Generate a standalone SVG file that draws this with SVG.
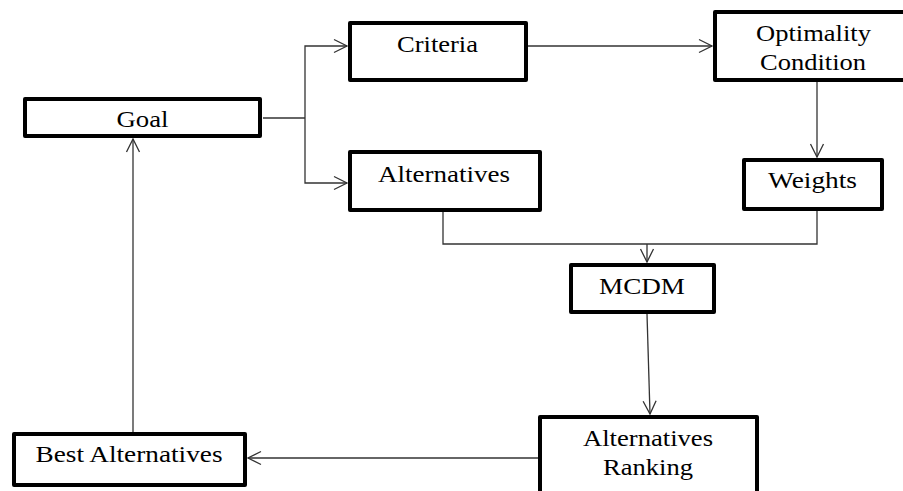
<svg xmlns="http://www.w3.org/2000/svg" width="903" height="491" viewBox="0 0 903 491">
<style>
.box{fill:#fff;stroke:#000;stroke-width:4;stroke-linejoin:round}
.t{font-family:"Liberation Serif","Times New Roman",serif;font-size:24px;fill:#000;text-anchor:middle}
.c{fill:none;stroke:#333;stroke-width:1.3}
</style>
<defs>
<marker id="a" markerUnits="userSpaceOnUse" markerWidth="20" markerHeight="20" viewBox="-15 -10 17 20" refX="0" refY="0" orient="auto">
<path d="M-13,-6.5 L0,0 L-13,6.5" fill="none" stroke="#333" stroke-width="1.3"/>
</marker>
</defs>
<rect width="903" height="491" fill="#fff"/>
<g id="connectors">
<path class="c" d="M263,118 H305"/>
<path class="c" d="M305,118 V46 H347" marker-end="url(#a)"/>
<path class="c" d="M305,118 V183 H347" marker-end="url(#a)"/>
<path class="c" d="M528,46 H712" marker-end="url(#a)"/>
<path class="c" d="M817,82 V157" marker-end="url(#a)"/>
<path class="c" d="M443,212 V244 H817 V211"/>
<path class="c" d="M647,244 V262" marker-end="url(#a)"/>
<path class="c" d="M647,314 L650,414" marker-end="url(#a)"/>
<path class="c" d="M538,458 H248" marker-end="url(#a)"/>
<path class="c" d="M133,432 V139" marker-end="url(#a)"/>
</g>
<g id="goal"><rect class="box" x="25" y="99" width="235" height="37"/><text class="t" x="142.5" y="127" textLength="52" lengthAdjust="spacingAndGlyphs">Goal</text></g>
<g id="criteria"><rect class="box" x="350" y="23" width="176" height="57"/><text class="t" x="437.5" y="52" textLength="81" lengthAdjust="spacingAndGlyphs">Criteria</text></g>
<g id="alternatives"><rect class="box" x="350" y="152" width="190" height="58"/><text class="t" x="444" y="182" textLength="132" lengthAdjust="spacingAndGlyphs">Alternatives</text></g>
<g id="optimality"><rect class="box" x="715" y="12" width="200" height="68"/><text class="t" x="813.5" y="41" textLength="115" lengthAdjust="spacingAndGlyphs">Optimality</text><text class="t" x="813" y="70" textLength="106" lengthAdjust="spacingAndGlyphs">Condition</text></g>
<g id="weights"><rect class="box" x="744" y="160" width="138" height="49"/><text class="t" x="812.5" y="188" textLength="89" lengthAdjust="spacingAndGlyphs">Weights</text></g>
<g id="mcdm"><rect class="box" x="571" y="265" width="143" height="47"/><text class="t" x="642" y="294" textLength="86" lengthAdjust="spacingAndGlyphs">MCDM</text></g>
<g id="ranking"><rect class="box" x="540" y="417" width="217" height="100"/><text class="t" x="648" y="446" textLength="130" lengthAdjust="spacingAndGlyphs">Alternatives</text><text class="t" x="648" y="475" textLength="90" lengthAdjust="spacingAndGlyphs">Ranking</text></g>
<g id="best"><rect class="box" x="14" y="434" width="231" height="51"/><text class="t" x="129" y="462" textLength="187" lengthAdjust="spacingAndGlyphs">Best Alternatives</text></g>
</svg>
